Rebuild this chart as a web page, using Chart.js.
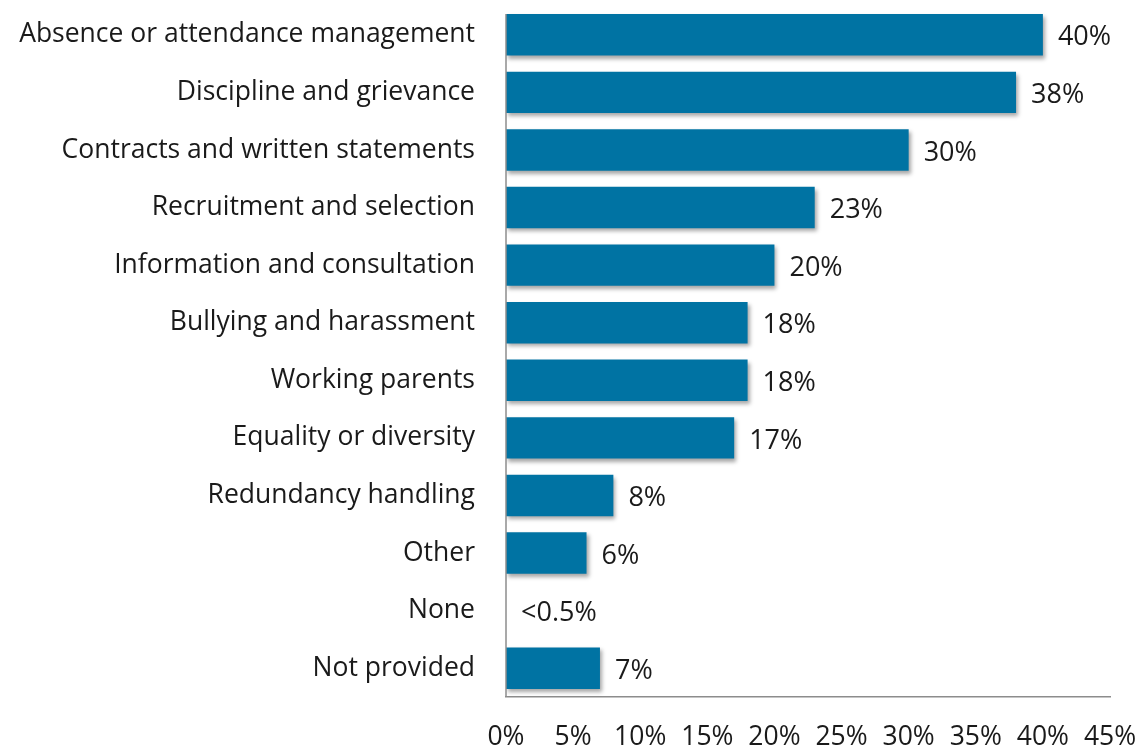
<!DOCTYPE html>
<html>
<head>
<meta charset="utf-8">
<script src="https://cdn.jsdelivr.net/npm/chart.js@4"></script>
<style>
  html, body { margin: 0; padding: 0; background: #fff; }
  #wrap { width: 1138px; height: 749px; }
</style>
</head>
<body>
<div id="wrap"><canvas id="barChart"></canvas></div>
<script>
// categories and values (%)
const categories = [
    "Absence or attendance management",
    "Discipline and grievance",
    "Contracts and written statements",
    "Recruitment and selection",
    "Information and consultation",
    "Bullying and harassment",
    "Working parents",
    "Equality or diversity",
    "Redundancy handling",
    "Other",
    "None",
    "Not provided"
];
const values = [40, 38, 30, 23, 20, 18, 18, 17, 8, 6, 0, 7];
const valueLabels = ["40%", "38%", "30%", "23%", "20%", "18%", "18%", "17%", "8%", "6%", "<0.5%", "7%"];

const FONT = "'Open Sans', 'Noto Sans', sans-serif";
const TEXT = "#1a1a1a";
const AXIS = "#8c8c8c";

// bar shadow
const shadowPlugin = {
    id: "barShadow",
    beforeDatasetDraw(chart) {
        const c = chart.ctx;
        c.save();
        c.shadowColor = "rgba(0,0,0,0.35)";
        c.shadowBlur = 4;
        c.shadowOffsetX = 2;
        c.shadowOffsetY = 3;
    },
    afterDatasetDraw(chart) {
        chart.ctx.restore();
    }
};

// value labels to the right of each bar + the vertical axis line
const labelPlugin = {
    id: "valueLabels",
    afterDatasetsDraw(chart) {
        const c = chart.ctx;
        const meta = chart.getDatasetMeta(0);
        const area = chart.chartArea;
        c.save();
        // left axis starts at the top of the first bar
        const first = meta.data[0];
        c.strokeStyle = AXIS;
        c.lineWidth = 1.5;
        c.beginPath();
        c.moveTo(area.left, first.y - first.height / 2);
        c.lineTo(area.left, area.bottom);
        c.stroke();

        c.font = "27px " + FONT;
        c.fillStyle = TEXT;
        c.textAlign = "left";
        c.textBaseline = "middle";
        meta.data.forEach((bar, i) => {
            c.fillText(valueLabels[i], bar.x + 15, bar.y + 3);
        });
        c.restore();
    }
};

new Chart(document.getElementById("barChart"), {
    type: "bar",
    data: {
        labels: categories,
        datasets: [{
            data: values,
            backgroundColor: "#0073a3",
            borderWidth: 0,
            categoryPercentage: 0.72,
            barPercentage: 1.0
        }]
    },
    options: {
        indexAxis: "y",
        responsive: true,
        maintainAspectRatio: false,
        animation: false,
        layout: { padding: { top: 6, right: 28, left: 0, bottom: 0 } },
        plugins: {
            legend: { display: false },
            tooltip: { enabled: false }
        },
        scales: {
            x: {
                min: 0,
                max: 45,
                ticks: {
                    stepSize: 5,
                    callback: v => v + "%",
                    color: TEXT,
                    font: { family: FONT, size: 26.5 },
                    padding: 25,
                    maxRotation: 0
                },
                grid: { display: false, drawTicks: false },
                border: { display: true, color: AXIS, width: 1.5 },
                afterFit(scale) {
                    scale.height = 52;
                    scale.paddingLeft = 0;
                    scale.paddingRight = 0;
                }
            },
            y: {
                ticks: {
                    color: TEXT,
                    font: { family: FONT, size: 26.5 },
                    padding: 31
                },
                grid: { display: false, drawTicks: false },
                border: { display: false },
                afterFit(scale) {
                    scale.width = 506;
                    scale.paddingTop = 0;
                    scale.paddingBottom = 0;
                }
            }
        }
    },
    plugins: [shadowPlugin, labelPlugin]
});
</script>
</body>
</html>
